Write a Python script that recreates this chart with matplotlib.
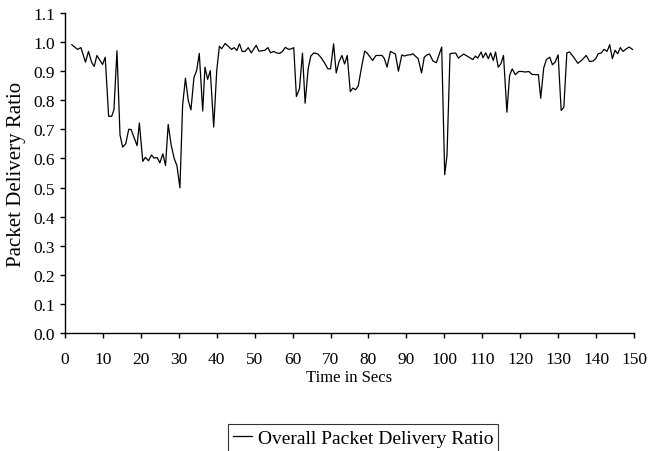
import matplotlib
matplotlib.use("Agg")
import matplotlib.pyplot as plt

time_s = [1.8, 3.3, 4.2, 5.4, 6.2, 7.0, 7.7, 8.4, 9.9, 10.6, 11.5, 12.3, 12.9, 13.7,
          14.5, 15.2, 16.0, 16.8, 17.4, 19.0, 19.6, 20.5, 21.2, 22.0, 22.8, 23.5, 24.3,
          25.0, 25.8, 26.5, 27.2, 28.0, 28.8, 29.5, 30.3, 31.0, 31.75, 32.5, 33.2, 34.0,
          34.7, 35.4, 36.3, 36.9, 37.6, 38.3, 39.2, 40.0, 40.7, 41.3, 42.2, 43.0, 43.9,
          44.6, 45.3, 46.0, 46.7, 47.5, 48.3, 49.1, 50.4, 51.1, 51.9, 52.7, 53.5, 54.2,
          55.0, 55.7, 56.6, 57.3, 58.1, 58.9, 59.7, 60.3, 61.0, 61.8, 62.6, 63.3, 64.1,
          64.8, 65.6, 66.7, 67.6, 68.4, 69.3, 70.0, 70.8, 71.5, 72.2, 73.0, 73.7, 74.4,
          75.2, 75.9, 76.6, 77.3, 78.1, 79.0, 79.6, 81.1, 82.0, 83.6, 84.2, 84.9, 85.8,
          87.1, 87.9, 88.8, 89.5, 90.4, 91.0, 91.7, 93.1, 94.0, 94.7, 95.4, 96.1, 97.0,
          97.9, 99.3, 100.1, 100.7, 101.5, 102.3, 103.0, 103.7, 105.1, 106.5, 107.5,
          108.2, 108.8, 109.7, 110.2, 110.9, 111.6, 112.2, 112.9, 113.5, 114.2, 114.9,
          115.6, 116.5, 117.2, 117.9, 118.7, 119.6, 120.5, 121.3, 122.3, 123.1, 124.2,
          124.8, 125.4, 126.2, 126.9, 127.8, 128.5, 129.2, 130.0, 130.8, 131.5, 132.3,
          133.0, 134.1, 135.2, 136.4, 137.4, 138.3, 139.2, 139.9, 140.6, 141.4, 142.1,
          142.9, 143.6, 144.3, 145.0, 145.7, 146.4, 147.1, 148.0, 148.7, 149.6]

pdr = [0.991, 0.975, 0.981, 0.931, 0.968, 0.931, 0.916, 0.954, 0.923, 0.948, 0.745,
       0.745, 0.767, 0.970, 0.681, 0.639, 0.650, 0.700, 0.700, 0.644, 0.722, 0.590,
       0.604, 0.592, 0.612, 0.601, 0.603, 0.585, 0.616, 0.576, 0.717, 0.645, 0.599,
       0.576, 0.499, 0.782, 0.876, 0.799, 0.767, 0.879, 0.902, 0.961, 0.763, 0.914,
       0.872, 0.902, 0.708, 0.902, 0.986, 0.977, 0.995, 0.986, 0.975, 0.981, 0.971,
       0.994, 0.968, 0.968, 0.981, 0.963, 0.989, 0.969, 0.970, 0.972, 0.981, 0.963,
       0.968, 0.963, 0.961, 0.968, 0.982, 0.975, 0.977, 0.981, 0.813, 0.839, 0.962,
       0.790, 0.908, 0.952, 0.963, 0.959, 0.945, 0.929, 0.908, 0.908, 0.994, 0.894,
       0.931, 0.954, 0.925, 0.954, 0.830, 0.842, 0.836, 0.849, 0.908, 0.969, 0.963,
       0.937, 0.954, 0.954, 0.943, 0.914, 0.968, 0.959, 0.900, 0.956, 0.952, 0.956,
       0.956, 0.960, 0.943, 0.894, 0.948, 0.956, 0.959, 0.935, 0.929, 0.983, 0.544,
       0.610, 0.960, 0.962, 0.962, 0.945, 0.959, 0.948, 0.940, 0.952, 0.945, 0.966,
       0.946, 0.963, 0.943, 0.963, 0.937, 0.966, 0.914, 0.925, 0.954, 0.759, 0.885,
       0.908, 0.888, 0.899, 0.899, 0.897, 0.899, 0.889, 0.888, 0.888, 0.807, 0.911,
       0.940, 0.948, 0.922, 0.931, 0.956, 0.765, 0.776, 0.963, 0.966, 0.948, 0.927,
       0.940, 0.954, 0.933, 0.935, 0.943, 0.960, 0.963, 0.975, 0.968, 0.991, 0.943,
       0.972, 0.960, 0.981, 0.968, 0.977, 0.983, 0.975]

x_ticks = list(range(0, 151, 10))
y_ticks = [i / 10 for i in range(0, 12)]

plt.rcParams['font.family'] = ['Liberation Serif', 'DejaVu Serif']
plt.rcParams['font.size'] = 12

fig = plt.figure(figsize=(6.49, 4.52), dpi=100)
ax = fig.add_axes([65 / 649, 1 - 334 / 452, (634 - 65) / 649, (334 - 14) / 452])

ax.plot(time_s, pdr, color='black', linewidth=0.9, label='Overall Packet Delivery Ratio')

ax.set_xlim(0, 150)
ax.set_ylim(0, 1.1)
ax.set_xticks(x_ticks)
ax.set_yticks(y_ticks)
ax.set_yticklabels([f"{v:.1f}" for v in y_ticks])
ax.spines['top'].set_visible(False)
ax.spines['right'].set_visible(False)
ax.spines['left'].set_linewidth(1.0)
ax.spines['bottom'].set_linewidth(1.0)
ax.tick_params(axis='both', direction='out', length=3.6, width=1.0, colors='black', labelsize=12.5)
ax.tick_params(axis='x', pad=9)
ax.tick_params(axis='y', pad=3.5)

ax.set_xlabel('Time in Secs', fontsize=12, labelpad=2)
ax.set_ylabel('Packet Delivery Ratio', fontsize=15, labelpad=5)

leg = fig.legend(loc='center', bbox_to_anchor=(363 / 649, 1 - 439 / 452),
                 frameon=True, fancybox=False, fontsize=14, handlelength=1.0,
                 handletextpad=0.3, borderpad=0.25, borderaxespad=0)
leg.get_frame().set_edgecolor('black')
leg.get_frame().set_linewidth(0.8)

fig.savefig('out.png', dpi=100)
